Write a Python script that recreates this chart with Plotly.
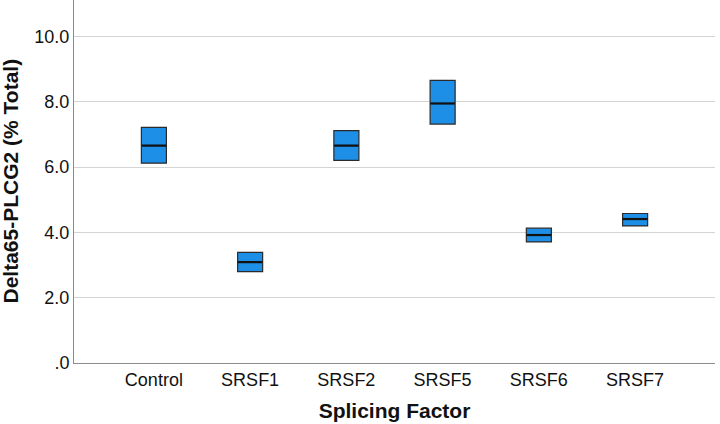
import plotly.graph_objects as go

categories = ["Control", "SRSF1", "SRSF2", "SRSF5", "SRSF6", "SRSF7"]
q1_values = [6.12, 2.80, 6.21, 7.32, 3.71, 4.20]
median_values = [6.66, 3.09, 6.66, 7.95, 3.92, 4.41]
q3_values = [7.22, 3.39, 7.12, 8.66, 4.13, 4.58]

y_tickvals = [0, 2, 4, 6, 8, 10]
y_ticktext = [".0", "2.0", "4.0", "6.0", "8.0", "10.0"]

FONT = "Liberation Sans, Arial, sans-serif"

fig = go.Figure()
fig.add_trace(go.Box(
    x=categories,
    q1=q1_values,
    median=median_values,
    q3=q3_values,
    lowerfence=q1_values,
    upperfence=q3_values,
    width=0.26,
    fillcolor="#1E8FE6",
    line=dict(color="#2b2b2b", width=1.2),
    boxpoints=False,
    showlegend=False,
))
fig.add_trace(go.Scatter(
    x=categories,
    y=median_values,
    mode="markers",
    marker=dict(symbol="line-ew", size=17.5, line=dict(color="#111111", width=2.2)),
    showlegend=False,
    hoverinfo="skip",
))

fig.update_layout(
    width=720,
    height=424,
    margin=dict(l=74, r=5, t=0, b=61),
    paper_bgcolor="white",
    plot_bgcolor="white",
    font=dict(family=FONT, color="#111111"),
    xaxis=dict(
        type="category",
        range=[-0.83, 5.83],
        showgrid=False,
        showline=True,
        linecolor="#8c8c8c",
        linewidth=1,
        ticks="",
        tickfont=dict(size=18, family=FONT, color="#111111"),
        title=dict(text="<b>Splicing Factor</b>", font=dict(size=21, family=FONT), standoff=14),
        zeroline=False,
    ),
    yaxis=dict(
        range=[0, 11.12],
        tickvals=y_tickvals,
        ticktext=y_ticktext,
        showgrid=True,
        gridcolor="#d4d4d4",
        gridwidth=1,
        showline=True,
        linecolor="#8c8c8c",
        linewidth=1,
        ticks="",
        zeroline=False,
        tickfont=dict(size=18, family=FONT, color="#111111"),
    ),
    annotations=[dict(
        text="<b>Delta65-PLCG2 (% Total)</b>",
        xref="paper", yref="paper",
        x=(10 - 74) / 641, y=0.5,
        xanchor="center", yanchor="middle",
        textangle=-90,
        showarrow=False,
        font=dict(size=21, family=FONT, color="#111111"),
    )],
)

fig.write_html("out.html")
